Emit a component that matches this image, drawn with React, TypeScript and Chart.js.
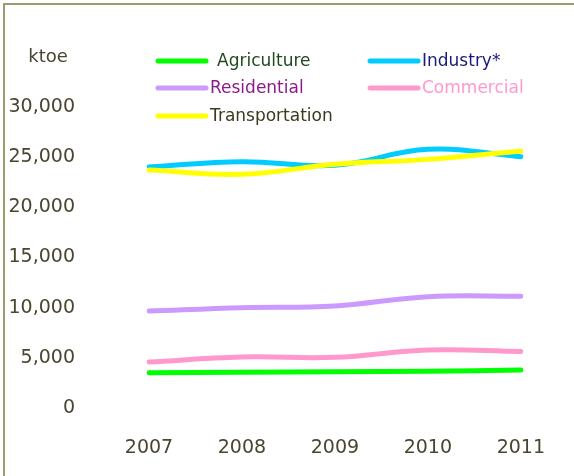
import React, { useEffect, useRef } from "react";
import { Chart, registerables } from "chart.js";

Chart.register(...registerables);

const years = ["2007", "2008", "2009", "2010", "2011"];
const agriculture = [3520, 3560, 3610, 3660, 3790];
const industry = [24020, 24550, 24190, 25780, 25050];
const residential = [9670, 10000, 10170, 11100, 11150];
const commercial = [4590, 5080, 5050, 5780, 5620];
const transportation = [23720, 23290, 24290, 24780, 25610];

const seriesNames = ["Agriculture", "Industry*", "Residential", "Commercial", "Transportation"];
const lineColors = ["#00ff00", "#00ccff", "#cc99ff", "#ff99cc", "#ffff00"];
const labelColors = ["#1f4a1f", "#1a1a78", "#8b1a8b", "#ff99cc", "#3b3a1e"];
const yTicks = [0, 5000, 10000, 15000, 20000, 25000, 30000];
const yUnit = "ktoe";

const FONT = "'DejaVu Sans', sans-serif";
const TICK_COLOR = "#4a4530";

const legendPlugin = {
  id: "gridLegend",
  afterDraw(chart: any) {
    const ctx = chart.ctx;
    ctx.save();
    ctx.font = `18px ${FONT}`;
    ctx.fillStyle = TICK_COLOR;
    ctx.textAlign = "center";
    ctx.textBaseline = "middle";
    ctx.fillText(yUnit, 48, 57);

    const cols = [158, 370];
    const rows = [61, 88, 116];
    const slots = [
      [0, 0],
      [1, 0],
      [0, 1],
      [1, 1],
      [0, 2],
    ];
    ctx.font = `17px ${FONT}`;
    ctx.textAlign = "left";
    chart.data.datasets.forEach((ds: any, i: number) => {
      const [c, r] = slots[i];
      const x = cols[c];
      const y = rows[r];
      ctx.strokeStyle = ds.borderColor;
      ctx.lineWidth = 5;
      ctx.lineCap = "round";
      ctx.beginPath();
      ctx.moveTo(x, y);
      ctx.lineTo(x + 48, y);
      ctx.stroke();
      ctx.fillStyle = labelColors[i];
      const tx = i === 0 ? x + 59 : x + 52;
      ctx.fillText(ds.label, tx, y + 1);
    });
    ctx.restore();
  },
};

export default function App() {
  const ref = useRef<HTMLCanvasElement>(null);
  useEffect(() => {
    if (!ref.current) return;
    const series = [agriculture, industry, residential, commercial, transportation];
    const orders = [1, 2, 3, 4, 0];
    const chart = new Chart(ref.current, {
      type: "line",
      data: {
        labels: years,
        datasets: series.map((d, i) => ({
          label: seriesNames[i],
          data: d,
          borderColor: lineColors[i],
          backgroundColor: lineColors[i],
          borderWidth: 5,
          borderCapStyle: "round",
          tension: 0.4,
          pointRadius: 0,
          fill: false,
          order: orders[i],
        })),
      },
      options: {
        animation: false,
        responsive: false,
        layout: { padding: { top: 107, right: 52, left: 0, bottom: 0 } },
        plugins: {
          legend: { display: false },
          tooltip: { enabled: false },
        },
        scales: {
          x: {
            type: "category",
            offset: false,
            grid: { display: false, drawTicks: false },
            border: { display: false },
            ticks: {
              font: { family: FONT, size: 19 },
              color: TICK_COLOR,
              padding: 29,
              maxRotation: 0,
            },
            afterFit: (scale: any) => {
              scale.height = 68;
            },
          },
          y: {
            min: 0,
            max: 30000,
            grid: { display: false, drawTicks: false },
            border: { display: false },
            afterBuildTicks: (scale: any) => {
              scale.ticks = yTicks.map((v) => ({ value: v }));
            },
            ticks: {
              font: { family: FONT, size: 19 },
              color: TICK_COLOR,
              padding: 74,
              callback: (v: any) => Number(v).toLocaleString("en-US"),
            },
            afterFit: (scale: any) => {
              scale.width = 149;
              scale.paddingTop = 12;
              scale.paddingBottom = 12;
            },
          },
        },
      },
      plugins: [legendPlugin],
    } as any);
    return () => chart.destroy();
  }, []);

  return (
    <div style={{ position: "fixed", left: 0, top: 0, width: 574, height: 476, background: "#ffffff", overflow: "hidden" }}>
      <div
        style={{
          position: "absolute",
          left: 3,
          top: 3,
          width: 700,
          height: 700,
          borderLeft: "2px solid #a09b6e",
          borderTop: "2px solid #a09b6e",
        }}
      />
      <canvas ref={ref} width={574} height={476} style={{ position: "absolute", left: 0, top: 0 }} />
    </div>
  );
}
